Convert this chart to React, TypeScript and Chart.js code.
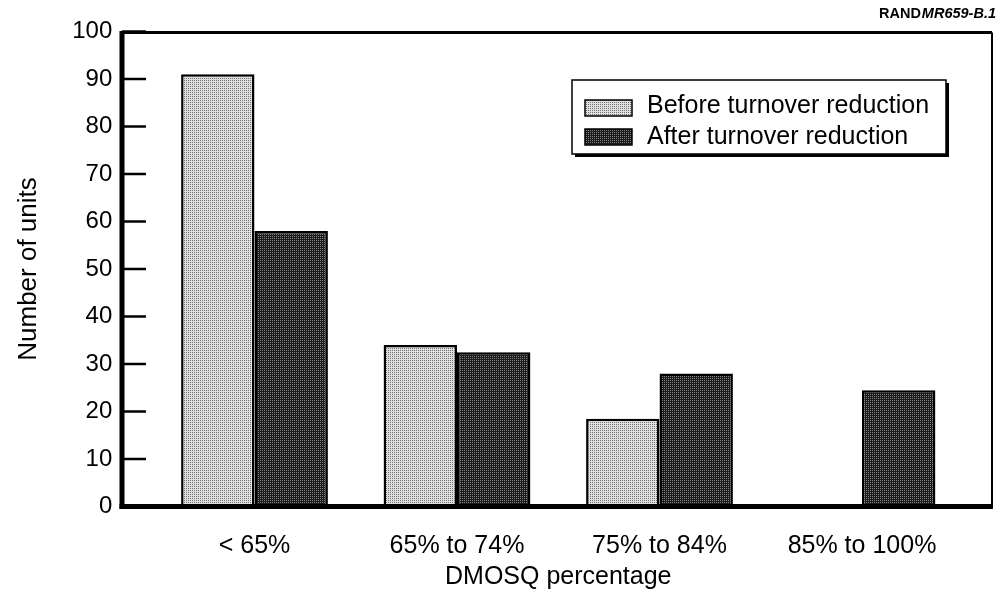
import React, { useEffect, useRef } from "react";
import { Chart, registerables } from "chart.js";

Chart.register(...registerables);

const categories = ["< 65%", "65% to 74%", "75% to 84%", "85% to 100%"];
const beforeValues: (number | null)[] = [91, 34, 18.5, null];
const afterValues: number[] = [58, 32.5, 28, 24.5];
const seriesLabels = ["Before turnover reduction", "After turnover reduction"];
const yTickValues = [0, 10, 20, 30, 40, 50, 60, 70, 80, 90, 100];
const xTitle = "DMOSQ percentage";
const yTitle = "Number of units";

const FONT = "'Liberation Sans', Arial, Helvetica, sans-serif";

function makePattern(base: string, dot: string, dense: boolean): CanvasPattern | string {
  const c = document.createElement("canvas");
  c.width = 2;
  c.height = 2;
  const g = c.getContext("2d");
  if (!g) return base;
  g.fillStyle = base;
  g.fillRect(0, 0, 2, 2);
  g.fillStyle = dot;
  g.fillRect(0, 0, 1, 1);
  if (dense) g.fillRect(1, 1, 1, 1);
  const p = g.createPattern(c, "repeat");
  return p || base;
}

export default function App() {
  const ref = useRef<HTMLCanvasElement | null>(null);

  useEffect(() => {
    document.body.style.margin = "0";
    const canvas = ref.current;
    if (!canvas) return;

    const beforeFill = makePattern("#e0e0e0", "#707070", false);
    const afterFill = makePattern("#1a1a1a", "#858585", false);

    const framePlugin = {
      id: "frame",
      afterDatasetsDraw(chart: any) {
        const ctx = chart.ctx as CanvasRenderingContext2D;
        const y = chart.scales.y;
        const axisX = 122;
        const rightX = 992;
        const topY = y.getPixelForValue(100) + 1;
        const botY = y.getPixelForValue(0);
        ctx.save();
        ctx.strokeStyle = "#000";
        ctx.lineCap = "butt";
        ctx.lineWidth = 2.5;
        for (const v of yTickValues) {
          const py = y.getPixelForValue(v);
          ctx.beginPath();
          ctx.moveTo(axisX, py);
          ctx.lineTo(146, py);
          ctx.stroke();
        }
        ctx.lineWidth = 3;
        ctx.beginPath();
        ctx.moveTo(axisX, topY);
        ctx.lineTo(rightX, topY);
        ctx.stroke();
        ctx.lineWidth = 2;
        ctx.beginPath();
        ctx.moveTo(rightX, topY);
        ctx.lineTo(rightX, botY);
        ctx.stroke();
        ctx.lineWidth = 5;
        ctx.beginPath();
        ctx.moveTo(axisX, topY - 1.5);
        ctx.lineTo(axisX, botY + 2.5);
        ctx.stroke();
        ctx.lineWidth = 5;
        ctx.beginPath();
        ctx.moveTo(axisX - 2.5, botY);
        ctx.lineTo(rightX + 1, botY);
        ctx.stroke();
        ctx.restore();
      },
      afterDraw(chart: any) {
        const ctx = chart.ctx as CanvasRenderingContext2D;
        ctx.save();
        const bx = 572, by = 80, bw = 374, bh = 74;
        ctx.fillStyle = "#000";
        ctx.fillRect(bx + 3, by + 3, bw, bh);
        ctx.fillStyle = "#fff";
        ctx.fillRect(bx, by, bw, bh);
        ctx.strokeStyle = "#000";
        ctx.lineWidth = 1.5;
        ctx.strokeRect(bx, by, bw, bh);
        const rows = [
          { fill: beforeFill, label: chart.data.datasets[0].label, sy: 100, ty: 106 },
          { fill: afterFill, label: chart.data.datasets[1].label, sy: 129, ty: 137 },
        ];
        for (const r of rows) {
          ctx.fillStyle = r.fill as any;
          ctx.fillRect(585, r.sy, 47, 16);
          ctx.lineWidth = 1.5;
          ctx.strokeStyle = "#000";
          ctx.strokeRect(585, r.sy, 47, 16);
          ctx.fillStyle = "#000";
          ctx.font = `25px ${FONT}`;
          ctx.textBaseline = "middle";
          ctx.textAlign = "left";
          ctx.fillText(r.label, 647, r.ty);
        }
        ctx.textBaseline = "alphabetic";
        ctx.textAlign = "right";
        ctx.font = `italic bold 14.5px ${FONT}`;
        const part2 = "MR659-B.1";
        ctx.fillText(part2, 996, 18);
        const w2 = ctx.measureText(part2).width;
        ctx.font = `bold 14.5px ${FONT}`;
        ctx.fillText("RAND", 996 - w2 - 1, 18);
        ctx.restore();
      },
    };

    const chart = new Chart(canvas, {
      type: "bar",
      data: {
        labels: categories,
        datasets: [
          {
            label: seriesLabels[0],
            data: beforeValues,
            backgroundColor: beforeFill as any,
            borderColor: "#000",
            borderWidth: 2.5,
            borderSkipped: false,
            categoryPercentage: 0.725,
            barPercentage: 1.0,
          },
          {
            label: seriesLabels[1],
            data: afterValues,
            backgroundColor: afterFill as any,
            borderColor: "#000",
            borderWidth: 2.5,
            borderSkipped: false,
            categoryPercentage: 0.725,
            barPercentage: 1.0,
          },
        ],
      },
      options: {
        responsive: false,
        animation: false,
        layout: { padding: { top: 31.5, right: 36.75, left: 0, bottom: 0 } },
        plugins: {
          legend: { display: false },
          tooltip: { enabled: false },
        },
        scales: {
          x: {
            type: "category",
            grid: { display: false },
            border: { display: false },
            ticks: {
              color: "#000",
              font: { family: FONT, size: 25 },
              padding: 17,
              autoSkip: false,
              maxRotation: 0,
            },
            title: {
              display: true,
              text: xTitle,
              color: "#000",
              font: { family: FONT, size: 25 },
              padding: { top: 0, bottom: 5 },
            },
            afterFit: (s: any) => {
              s.height = 90.5;
              s.paddingLeft = 0;
              s.paddingRight = 0;
            },
          },
          y: {
            min: 0,
            max: 100,
            grid: { display: false },
            border: { display: false },
            ticks: {
              stepSize: 10,
              color: "#000",
              font: { family: FONT, size: 24 },
              padding: 33,
            },
            title: {
              display: true,
              text: yTitle,
              color: "#000",
              font: { family: FONT, size: 26 },
              padding: { top: 13, bottom: 0 },
            },
            afterFit: (s: any) => {
              s.width = 153.25;
              s.paddingTop = 0;
              s.paddingBottom = 0;
            },
          },
        },
      },
      plugins: [framePlugin],
    });

    return () => {
      chart.destroy();
    };
  }, []);

  return (
    <div style={{ width: 1000, height: 597, background: "#fff" }}>
      <canvas ref={ref} width={1000} height={597} style={{ display: "block" }} />
    </div>
  );
}
